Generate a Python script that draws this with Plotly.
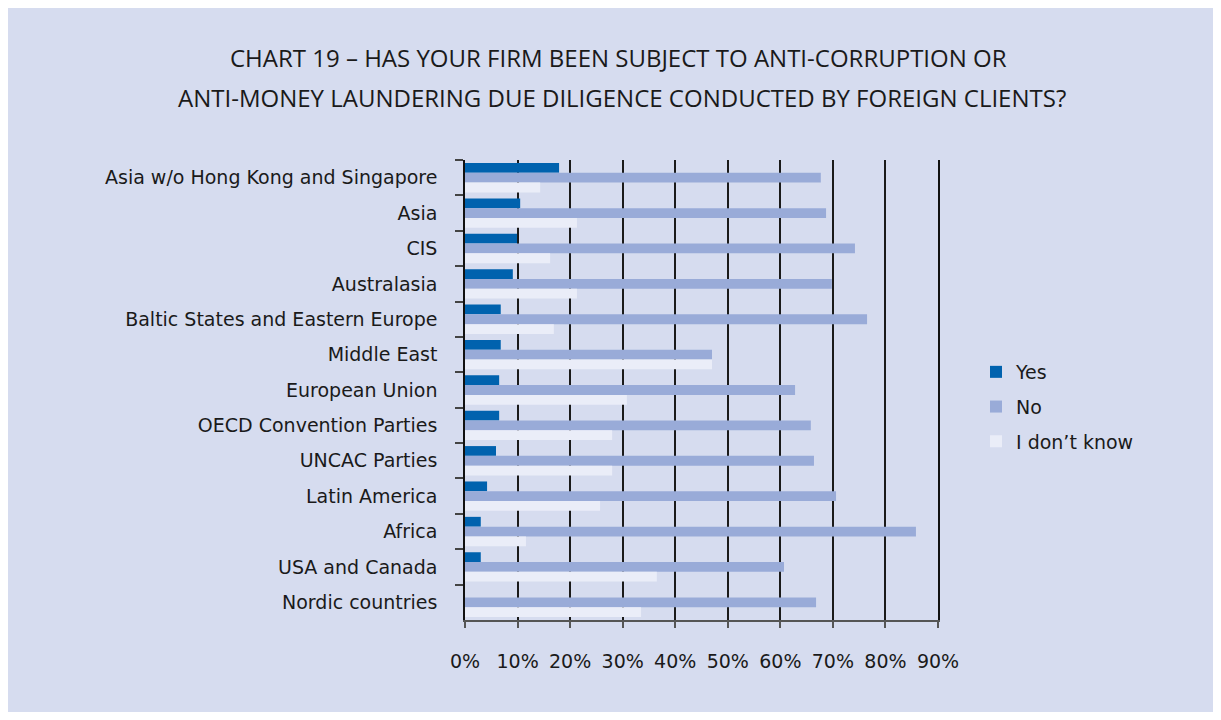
import plotly.graph_objects as go

categories = [
    "Asia w/o Hong Kong and Singapore",
    "Asia",
    "CIS",
    "Australasia",
    "Baltic States and Eastern Europe",
    "Middle East",
    "European Union",
    "OECD Convention Parties",
    "UNCAC Parties",
    "Latin America",
    "Africa",
    "USA and Canada",
    "Nordic countries",
]
yes_vals = [17.9, 10.5, 9.9, 9.1, 6.8, 6.8, 6.5, 6.5, 5.9, 4.2, 3.0, 3.0, 0.0]
no_vals = [67.7, 68.7, 74.2, 69.8, 76.5, 47.0, 62.8, 65.8, 66.4, 70.6, 85.8, 60.7, 66.8]
idk_vals = [14.3, 21.3, 16.2, 21.3, 16.9, 47.0, 30.8, 28.0, 28.0, 25.7, 11.6, 36.5, 33.5]
x_ticks = [0, 10, 20, 30, 40, 50, 60, 70, 80, 90]
x_tick_labels = ["0%", "10%", "20%", "30%", "40%", "50%", "60%", "70%", "80%", "90%"]
title_lines = [
    "CHART 19 \u2013 HAS YOUR FIRM BEEN SUBJECT TO ANTI-CORRUPTION OR",
    "ANTI-MONEY LAUNDERING DUE DILIGENCE CONDUCTED BY FOREIGN CLIENTS?",
]

BG = "#d6dcef"
FONT = "DejaVu Sans, Noto Sans, sans-serif"
TITLE_FONT = "Open Sans, Noto Sans, sans-serif"

fig = go.Figure()
for name, vals, color, grp in [
    ("Yes", yes_vals, "#0062ae", "a"),
    ("No", no_vals, "#99abd8", "b"),
    ("I don\u2019t know", idk_vals, "#eaedf8", "c"),
]:
    fig.add_trace(go.Bar(
        y=categories, x=vals, name=name, orientation="h",
        marker=dict(color=color, line=dict(width=0)),
        legendgroup=grp, hoverinfo="x+name",
    ))

# page body adds an 8px margin; figure fills the rest of the 1221x720 window
W, H = 1205, 704
OFF = 8
ml, mr, mt, mb = 465 - OFF, W - (938 - OFF), 160 - OFF, H - (620 - OFF)
pw, ph = W - ml - mr, H - mt - mb

def px2paper_x(px):
    return (px - OFF - ml) / pw

def px2paper_y(py):
    return (H - mb - (py - OFF)) / ph

annotations = []
for line, ys, xc in zip(title_lines, [57, 97], [618, 622]):
    annotations.append(dict(
        text=line, xref="paper", yref="paper",
        x=px2paper_x(xc), y=px2paper_y(ys), xanchor="center", yanchor="middle",
        showarrow=False, font=dict(family=TITLE_FONT, size=24, color="#1a1a1a"),
    ))

fig.update_layout(
    width=W, height=H,
    margin=dict(l=ml, r=mr, t=mt, b=mb),
    paper_bgcolor=BG,
    plot_bgcolor=BG,
    barmode="group", bargap=0.17, bargroupgap=0,
    font=dict(family=FONT, size=19, color="#1a1a1a"),
    annotations=annotations,
    legend=dict(
        x=px2paper_x(976), y=px2paper_y(353), xanchor="left", yanchor="top",
        bgcolor="rgba(0,0,0,0)", font=dict(size=19, family=FONT),
        tracegroupgap=7, itemwidth=30,
    ),
    xaxis=dict(
        range=[0, 90], tickvals=x_ticks, ticktext=x_tick_labels,
        showgrid=True, gridcolor="#1a1a1a", gridwidth=1.5,
        zeroline=False, showline=True, linecolor="#555555", linewidth=1.5,
        ticks="outside", ticklen=6, tickcolor="#555555", tickwidth=1.5,
        ticklabelstandoff=17, tickfont=dict(size=19, family=FONT),
        fixedrange=True,
    ),
    yaxis=dict(
        range=[12.5, -0.5], type="category",
        showline=True, linecolor="#111111", linewidth=1.5, mirror=True,
        showgrid=False, zeroline=False,
        ticks="outside", tickson="boundaries", ticklen=8, tickcolor="#444444", tickwidth=1.5,
        ticklabelstandoff=22, tickfont=dict(size=19, family=FONT),
        fixedrange=True,
    ),
)

fig.write_html("out.html")
